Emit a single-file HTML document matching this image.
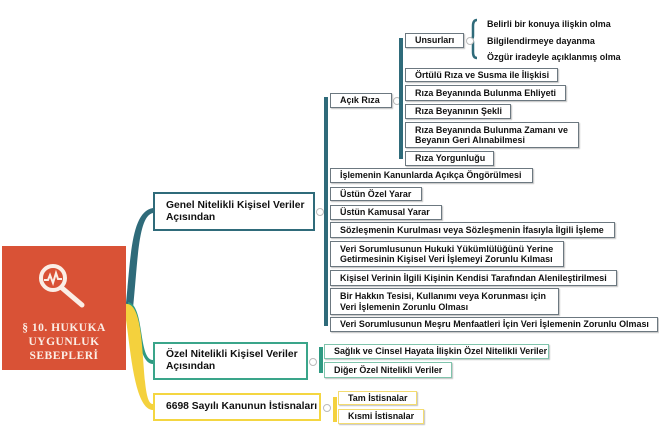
<!DOCTYPE html>
<html><head><meta charset="utf-8"><style>
body{margin:0;width:659px;height:446px;background:#fff;position:relative;overflow:hidden;font-family:"Liberation Sans",Arial,sans-serif;}
.b{position:absolute;box-sizing:border-box;border:1.5px solid #6c7880;background:#fff;font-weight:bold;font-size:8.95px;color:#111;padding:0 0 0 9px;line-height:10.5px;display:flex;flex-direction:column;justify-content:center;box-shadow:1px 1px 1px rgba(0,0,0,.25);white-space:nowrap;}
.t{position:absolute;font-weight:bold;font-size:8.95px;color:#111;white-space:nowrap;}
.m{position:absolute;font-weight:bold;font-size:10.3px;color:#111;line-height:12px;box-sizing:border-box;background:#fff;padding-left:11px;display:flex;flex-direction:column;justify-content:center;}
.bar{position:absolute;}
.c{position:absolute;width:6px;height:6px;border:1px solid #bbb;border-radius:50%;background:#fff;}
</style></head><body>
<svg width="659" height="446" style="position:absolute;left:0;top:0">
<path d="M125 312 C131 260,130 212,153 208 L153 213 C138 216,138 260,133 308 Z" fill="#2f6b7a"/>
<path d="M128 302 C145 305,138 360,153 360 L153 364 C138 364,138 320,128 310 Z" fill="#2f9a82"/>
<path d="M125 304 C150 300,138 405,153 404 L153 410 C133 410,130 340,125 314 Z" fill="#f4d13d"/>
<rect x="2" y="246" width="124" height="124" fill="#d95236"/>
<circle cx="53" cy="278" r="12" fill="none" stroke="#fbeee6" stroke-width="4"/>
<path d="M44 280 L48 280 L50 275 L53 283 L56 273 L58 279 L62 279" fill="none" stroke="#fbeee6" stroke-width="2"/>
<line x1="62" y1="288" x2="82" y2="305" stroke="#fbeee6" stroke-width="5" stroke-linecap="round"/>
<text x="64" y="331" text-anchor="middle" font-family="Liberation Serif,serif" font-size="11.5" font-weight="bold" fill="#fbeee6" letter-spacing="0.5">§ 10. HUKUKA</text>
<text x="64" y="345" text-anchor="middle" font-family="Liberation Serif,serif" font-size="11.5" font-weight="bold" fill="#fbeee6" letter-spacing="0.5">UYGUNLUK</text>
<text x="64" y="359" text-anchor="middle" font-family="Liberation Serif,serif" font-size="11.5" font-weight="bold" fill="#fbeee6" letter-spacing="0.5">SEBEPLERİ</text>
<path d="M477 20 Q473 20 473 26 L473 36 Q473 39 470 39 Q473 39 473 42 L473 52 Q473 58 477 58" fill="none" stroke="#2f6b7a" stroke-width="2.5"/>
</svg>
<div class="m" style="left:153px;top:192px;width:162px;height:39px;border:2.5px solid #2f6b7a">Genel Nitelikli Kişisel Veriler<br>Açısından</div>
<div class="m" style="left:153px;top:342px;width:155px;height:38px;border:2.5px solid #3aa58a">Özel Nitelikli Kişisel Veriler<br>Açısından</div>
<div class="m" style="left:153px;top:393px;width:168px;height:28px;border:2.5px solid #f4d641">6698 Sayılı Kanunun İstisnaları</div>
<div class="c" style="left:316px;top:208px"></div>
<div class="c" style="left:309px;top:358px"></div>
<div class="c" style="left:323px;top:404px"></div>
<div class="c" style="left:393px;top:97px"></div>
<div class="c" style="left:466px;top:37px"></div>
<div class="bar" style="left:324px;top:97px;width:3.5px;height:229px;background:#2f6b7a"></div>
<div class="bar" style="left:399px;top:38px;width:3.5px;height:121px;background:#2f6b7a"></div>
<div class="bar" style="left:319px;top:347px;width:3.5px;height:26px;background:#2f9a82"></div>
<div class="bar" style="left:333px;top:397px;width:3.5px;height:25px;background:#f4d13d"></div>
<div class="b" style="left:330px;top:93px;width:62px;height:15px">Açık Rıza</div>
<div class="b" style="left:330px;top:168px;width:203px;height:15px">İşlemenin Kanunlarda Açıkça Öngörülmesi</div>
<div class="b" style="left:330px;top:187px;width:92px;height:14px">Üstün Özel Yarar</div>
<div class="b" style="left:330px;top:205px;width:112px;height:15px">Üstün Kamusal Yarar</div>
<div class="b" style="left:330px;top:222px;width:285px;height:16px">Sözleşmenin Kurulması veya Sözleşmenin İfasıyla İlgili İşleme</div>
<div class="b" style="left:330px;top:241px;width:234px;height:26px">Veri Sorumlusunun Hukuki Yükümlülüğünü Yerine<br>Getirmesinin Kişisel Veri İşlemeyi Zorunlu Kılması</div>
<div class="b" style="left:330px;top:270px;width:287px;height:16px">Kişisel Verinin İlgili Kişinin Kendisi Tarafından Alenileştirilmesi</div>
<div class="b" style="left:330px;top:288px;width:229px;height:27px">Bir Hakkın Tesisi, Kullanımı veya Korunması için<br>Veri İşlemenin Zorunlu Olması</div>
<div class="b" style="left:330px;top:317px;width:328px;height:15px">Veri Sorumlusunun Meşru Menfaatleri İçin Veri İşlemenin Zorunlu Olması</div>
<div class="b" style="left:405px;top:33px;width:59px;height:15px">Unsurları</div>
<div class="b" style="left:405px;top:68px;width:153px;height:14px">Örtülü Rıza ve Susma ile İlişkisi</div>
<div class="b" style="left:405px;top:85px;width:161px;height:16px">Rıza Beyanında Bulunma Ehliyeti</div>
<div class="b" style="left:405px;top:104px;width:106px;height:15px">Rıza Beyanının Şekli</div>
<div class="b" style="left:405px;top:122px;width:174px;height:26px">Rıza Beyanında Bulunma Zamanı ve<br>Beyanın Geri Alınabilmesi</div>
<div class="b" style="left:405px;top:151px;width:89px;height:15px">Rıza Yorgunluğu</div>
<div class="t" style="left:487px;top:19px">Belirli bir konuya ilişkin olma</div>
<div class="t" style="left:487px;top:36px">Bilgilendirmeye dayanma</div>
<div class="t" style="left:487px;top:52px">Özgür iradeyle açıklanmış olma</div>
<div class="b" style="left:324px;top:344px;width:225px;height:15px;border-color:#7fc4ac">Sağlık ve Cinsel Hayata İlişkin Özel Nitelikli Veriler</div>
<div class="b" style="left:324px;top:362px;width:128px;height:16px;border-color:#7fc4ac">Diğer Özel Nitelikli Veriler</div>
<div class="b" style="left:338px;top:391px;width:79px;height:14px;border-color:#f4dc70">Tam İstisnalar</div>
<div class="b" style="left:338px;top:409px;width:86px;height:15px;border-color:#f4dc70">Kısmi İstisnalar</div>
</body></html>
